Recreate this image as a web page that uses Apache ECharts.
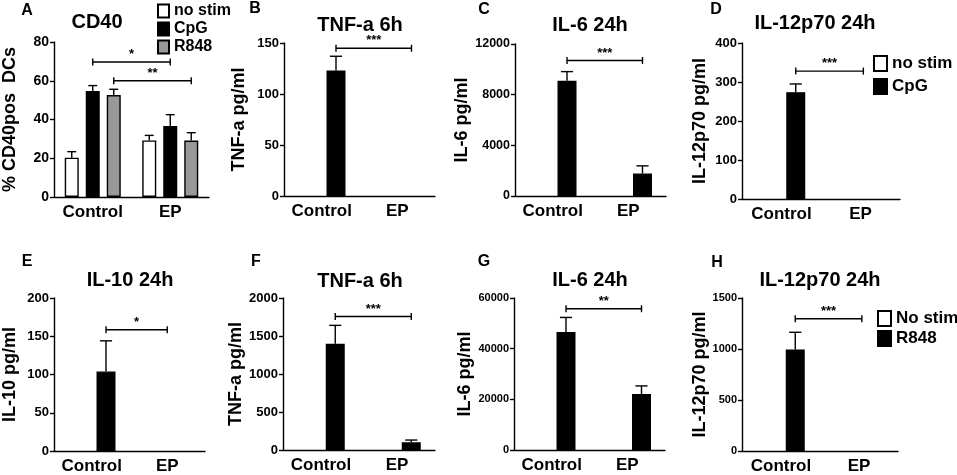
<!DOCTYPE html>
<html>
<head>
<meta charset="utf-8">
<title>CD40 and cytokines, Control vs EP</title>
<script src="https://cdn.jsdelivr.net/npm/echarts@6/dist/echarts.min.js"></script>
<style>
    html, body { margin: 0; padding: 0; background: #fff; }
    #chart { width: 957px; height: 475px; }
</style>
</head>
<body>
<div id="chart"></div>
<script>
// ===== data =====
const groups = ['Control', 'EP'];

// A: CD40 on DCs
const cd40NoStim = [20.3, 29.2];
const cd40NoStimSem = [3.1, 2.6];
const cd40CpG = [54.7, 36.6];
const cd40CpGSem = [2.8, 5.9];
const cd40R848 = [52.6, 29.1];
const cd40R848Sem = [3.0, 4.1];
const cd40Ticks = [0, 20, 40, 60, 80];
// [fromGroup, fromBar, toGroup, toBar, y]
const cd40Sig = [[0, 1, 1, 1, 69.7], [0, 2, 1, 2, 60]];
const cd40SigText = ['*', '**'];

// B-D: CpG stimulation (no stim not detected)
const noStim = [0, 0];
const tnfCpG = [123, 0];
const tnfCpGSem = [14, 0];
const tnfCpGTicks = [0, 50, 100, 150];
const tnfCpGSig = [[0, 1, 1, 1, 144.8]];

const il6CpG = [9100, 1780];
const il6CpGSem = [720, 600];
const il6CpGTicks = [0, 4000, 8000, 12000];
const il6CpGSig = [[0, 1, 1, 1, 10700]];

const il12CpG = [274, 0];
const il12CpGSem = [21, 0];
const il12CpGTicks = [0, 100, 200, 300, 400];
const il12CpGSig = [[0, 1, 1, 0.6, 328]];

// E-H: R848 stimulation
const il10R848 = [104, 0];
const il10R848Sem = [40, 0];
const il10R848Ticks = [0, 50, 100, 150, 200];
const il10R848Sig = [[0, 1, 1, 0.5, 158.5]];

const tnfR848 = [1397, 101];
const tnfR848Sem = [243, 30];
const tnfR848Ticks = [0, 500, 1000, 1500, 2000];
const tnfR848Sig = [[0, 1, 1, 1, 1757]];

const il6R848 = [46550, 22100];
const il6R848Sem = [5780, 3200];
const il6R848Ticks = [0, 20000, 40000, 60000];
const il6R848Sig = [[0, 1, 1, 1, 55770]];

const il12R848 = [994, 0];
const il12R848Sem = [170, 0];
const il12R848Ticks = [0, 500, 1000, 1500];
const il12R848Sig = [[0, 1, 1, 0.6, 1297]];

// ===== style =====
const FONT = '"Liberation Sans", Arial, Helvetica, sans-serif';
const WHITE = '#ffffff', BLACK = '#000000', GRAY = '#999999';
const LW = 1.4;

// panels: data + where they sit on the page
const panels = [
    { letter: 'A', title: 'CD40', yName: '% CD40pos  DCs', ticks: cd40Ticks, sig: cd40Sig, sigText: cd40SigText,
      bars: [
          { name: 'no stim', data: cd40NoStim, sem: cd40NoStimSem, color: WHITE },
          { name: 'CpG', data: cd40CpG, sem: cd40CpGSem, color: BLACK },
          { name: 'R848', data: cd40R848, sem: cd40R848Sem, color: GRAY }
      ],
      grid: { left: 53, top: 42, width: 156, height: 155 }, barW: 14, tickSize: 14, nameGap: 35,
      titleAt: [97, 22], letterAt: [27, 11] },
    { letter: 'B', title: 'TNF-a 6h', yName: 'TNF-a pg/ml', ticks: tnfCpGTicks, sig: tnfCpGSig, sigText: ['***'],
      bars: [
          { name: 'no stim', data: noStim, sem: noStim, color: WHITE },
          { name: 'CpG', data: tnfCpG, sem: tnfCpGSem, color: BLACK }
      ],
      grid: { left: 284, top: 43, width: 151, height: 153 }, barW: 19, tickSize: 13, nameGap: 36,
      titleAt: [360, 25], letterAt: [255, 9] },
    { letter: 'C', title: 'IL-6 24h', yName: 'IL-6 pg/ml', ticks: il6CpGTicks, sig: il6CpGSig, sigText: ['***'],
      bars: [
          { name: 'no stim', data: noStim, sem: noStim, color: WHITE },
          { name: 'CpG', data: il6CpG, sem: il6CpGSem, color: BLACK }
      ],
      grid: { left: 515, top: 44, width: 151, height: 152 }, barW: 19, tickSize: 12.5, nameGap: 37,
      titleAt: [590, 25], letterAt: [484, 10] },
    { letter: 'D', title: 'IL-12p70 24h', yName: 'IL-12p70 pg/ml', ticks: il12CpGTicks, sig: il12CpGSig, sigText: ['***'],
      bars: [
          { name: 'no stim', data: noStim, sem: noStim, color: WHITE },
          { name: 'CpG', data: il12CpG, sem: il12CpGSem, color: BLACK }
      ],
      grid: { left: 742, top: 43, width: 158, height: 156 }, barW: 19, tickSize: 13, nameGap: 33,
      titleAt: [815, 23], letterAt: [716, 10] },
    { letter: 'E', title: 'IL-10 24h', yName: 'IL-10 pg/ml', ticks: il10R848Ticks, sig: il10R848Sig, sigText: ['*'],
      bars: [
          { name: 'No stim', data: noStim, sem: noStim, color: WHITE },
          { name: 'R848', data: il10R848, sem: il10R848Sem, color: BLACK }
      ],
      grid: { left: 53, top: 298, width: 152, height: 153 }, barW: 19, tickSize: 13, nameGap: 35,
      titleAt: [130, 280], letterAt: [27, 262] },
    { letter: 'F', title: 'TNF-a 6h', yName: 'TNF-a pg/ml', ticks: tnfR848Ticks, sig: tnfR848Sig, sigText: ['***'],
      bars: [
          { name: 'No stim', data: noStim, sem: noStim, color: WHITE },
          { name: 'R848', data: tnfR848, sem: tnfR848Sem, color: BLACK }
      ],
      grid: { left: 283, top: 298, width: 152, height: 152 }, barW: 19, tickSize: 13, nameGap: 35,
      titleAt: [360, 281], letterAt: [256, 262] },
    { letter: 'G', title: 'IL-6 24h', yName: 'IL-6 pg/ml', ticks: il6R848Ticks, sig: il6R848Sig, sigText: ['**'],
      bars: [
          { name: 'No stim', data: noStim, sem: noStim, color: WHITE },
          { name: 'R848', data: il6R848, sem: il6R848Sem, color: BLACK }
      ],
      grid: { left: 514, top: 298, width: 151, height: 152 }, barW: 19, tickSize: 11, nameGap: 36,
      titleAt: [590, 280], letterAt: [484, 262] },
    { letter: 'H', title: 'IL-12p70 24h', yName: 'IL-12p70 pg/ml', ticks: il12R848Ticks, sig: il12R848Sig, sigText: ['***'],
      bars: [
          { name: 'No stim', data: noStim, sem: noStim, color: WHITE },
          { name: 'R848', data: il12R848, sem: il12R848Sem, color: BLACK }
      ],
      grid: { left: 742, top: 298, width: 156, height: 153 }, barW: 19, tickSize: 11, nameGap: 33,
      titleAt: [820, 280], letterAt: [717, 263] }
];

// offset of bar `slot` from the group centre (barGap = 50%)
function slotOffset(slot, n, bw) {
    return (slot - (n - 1) / 2) * bw * 1.5;
}

// SEM bars, upward only (GraphPad style)
function errRender(slot, n, bw) {
    return function (params, api) {
        const sem = api.value(2);
        if (!sem) return null;
        const cat = api.value(0), v = api.value(1);
        const base = api.coord([cat, v]);
        const x = base[0] + slotOffset(slot, n, bw);
        const yTop = api.coord([cat, v + sem])[1];
        const cw = bw * 0.32;
        const st = { stroke: BLACK, lineWidth: LW };
        return {
            type: 'group',
            children: [
                { type: 'line', shape: { x1: x, y1: base[1], x2: x, y2: yTop }, style: st },
                { type: 'line', shape: { x1: x - cw, y1: yTop, x2: x + cw, y2: yTop }, style: st }
            ]
        };
    };
}

// significance brackets with stars
function sigRender(marks, labels, n, bw) {
    return function (params, api) {
        const m = marks[params.dataIndex];
        const xa = api.coord([m[0], m[4]])[0] + slotOffset(m[1], n, bw);
        const xb = api.coord([m[2], m[4]])[0] + slotOffset(m[3], n, bw);
        const y = api.coord([m[0], m[4]])[1];
        const st = { stroke: BLACK, lineWidth: LW };
        return {
            type: 'group',
            children: [
                { type: 'line', shape: { x1: xa, y1: y, x2: xb, y2: y }, style: st },
                { type: 'line', shape: { x1: xa, y1: y - 3.5, x2: xa, y2: y + 3.5 }, style: st },
                { type: 'line', shape: { x1: xb, y1: y - 3.5, x2: xb, y2: y + 3.5 }, style: st },
                {
                    type: 'text', x: (xa + xb) / 2, y: y - 1,
                    style: {
                        text: labels[params.dataIndex], fill: BLACK,
                        font: 'bold 13px ' + FONT,
                        align: 'center', verticalAlign: 'bottom',
                        textAlign: 'center', textVerticalAlign: 'bottom'
                    }
                }
            ]
        };
    };
}

const option = {
    animation: false,
    backgroundColor: '#fff',
    textStyle: { fontFamily: FONT },
    title: [],
    legend: [],
    grid: [],
    xAxis: [],
    yAxis: [],
    series: []
};

panels.forEach((p, i) => {
    option.grid.push(Object.assign({ containLabel: false }, p.grid));

    option.title.push({
        text: p.title, left: p.titleAt[0], top: p.titleAt[1], padding: 0,
        textAlign: 'center', textVerticalAlign: 'middle',
        textStyle: { fontSize: 20, fontWeight: 'bold', color: BLACK, fontFamily: FONT }
    });
    option.title.push({
        text: p.letter, left: p.letterAt[0], top: p.letterAt[1], padding: 0,
        textAlign: 'center', textVerticalAlign: 'middle',
        textStyle: { fontSize: 16, fontWeight: 'bold', color: BLACK, fontFamily: FONT }
    });

    option.xAxis.push({
        type: 'category', gridIndex: i, data: groups,
        axisLine: { lineStyle: { color: BLACK, width: LW } },
        axisTick: { alignWithLabel: true, length: 5, lineStyle: { color: BLACK, width: LW } },
        axisLabel: { interval: 0, margin: 7, color: BLACK, fontSize: 17, fontWeight: 'bold', fontFamily: FONT },
        splitLine: { show: false }
    });

    const t = p.ticks;
    option.yAxis.push({
        type: 'value', gridIndex: i,
        min: t[0], max: t[t.length - 1], interval: t[1] - t[0],
        name: p.yName, nameLocation: 'middle', nameGap: p.nameGap,
        nameTextStyle: { fontSize: 18, fontWeight: 'bold', color: BLACK, fontFamily: FONT },
        axisLine: { show: true, lineStyle: { color: BLACK, width: LW } },
        axisTick: { show: true, length: 4, lineStyle: { color: BLACK, width: LW } },
        axisLabel: {
            margin: 5, color: BLACK, fontSize: p.tickSize, fontWeight: 'bold', fontFamily: FONT,
            formatter: v => String(v)
        },
        splitLine: { show: false }
    });

    const n = p.bars.length;
    p.bars.forEach((b, k) => {
        option.series.push({
            type: 'bar', name: b.name, xAxisIndex: i, yAxisIndex: i,
            barWidth: p.barW, barGap: '50%',
            itemStyle: { color: b.color, borderColor: BLACK, borderWidth: LW },
            // a not-detected (zero) bar leaves no outline on the axis
            data: b.data.map(v => (v === 0 ? { value: 0, itemStyle: { borderWidth: 0 } } : v)),
            silent: true, z: 2
        });
        option.series.push({
            type: 'custom', name: b.name + ' SEM', xAxisIndex: i, yAxisIndex: i,
            renderItem: errRender(k, n, p.barW),
            encode: { x: 0, y: 1 },
            data: groups.map((g, j) => [j, b.data[j], b.sem[j]]),
            silent: true, z: 3
        });
    });

    option.series.push({
        type: 'custom', name: p.letter + ' sig', xAxisIndex: i, yAxisIndex: i,
        renderItem: sigRender(p.sig, p.sigText, n, p.barW),
        encode: { x: 0, y: 1 },
        data: p.sig.map(m => [m[0], m[4]]),
        silent: true, z: 3
    });
});

const legendText = (size) => ({ fontSize: size, fontWeight: 'bold', color: BLACK, fontFamily: FONT });
option.legend = [
    { data: ['no stim', 'CpG', 'R848'], orient: 'vertical', left: 157, top: 3, padding: 0,
      icon: 'rect', itemWidth: 11, itemHeight: 13, itemGap: 2, selectedMode: false,
      textStyle: legendText(16) },
    { data: ['no stim', 'CpG'], orient: 'vertical', left: 873, top: 55, padding: 0,
      icon: 'rect', itemWidth: 13, itemHeight: 15, itemGap: 6, selectedMode: false,
      textStyle: legendText(17) },
    { data: ['No stim', { name: 'R848', itemStyle: { color: BLACK } }], orient: 'vertical', left: 877, top: 310, padding: 0,
      icon: 'rect', itemWidth: 13, itemHeight: 15, itemGap: 3, selectedMode: false,
      textStyle: legendText(17) }
];

const chart = echarts.init(document.getElementById('chart'), null, { renderer: 'canvas' });
chart.setOption(option);
window.addEventListener('resize', () => chart.resize());
</script>
</body>
</html>
